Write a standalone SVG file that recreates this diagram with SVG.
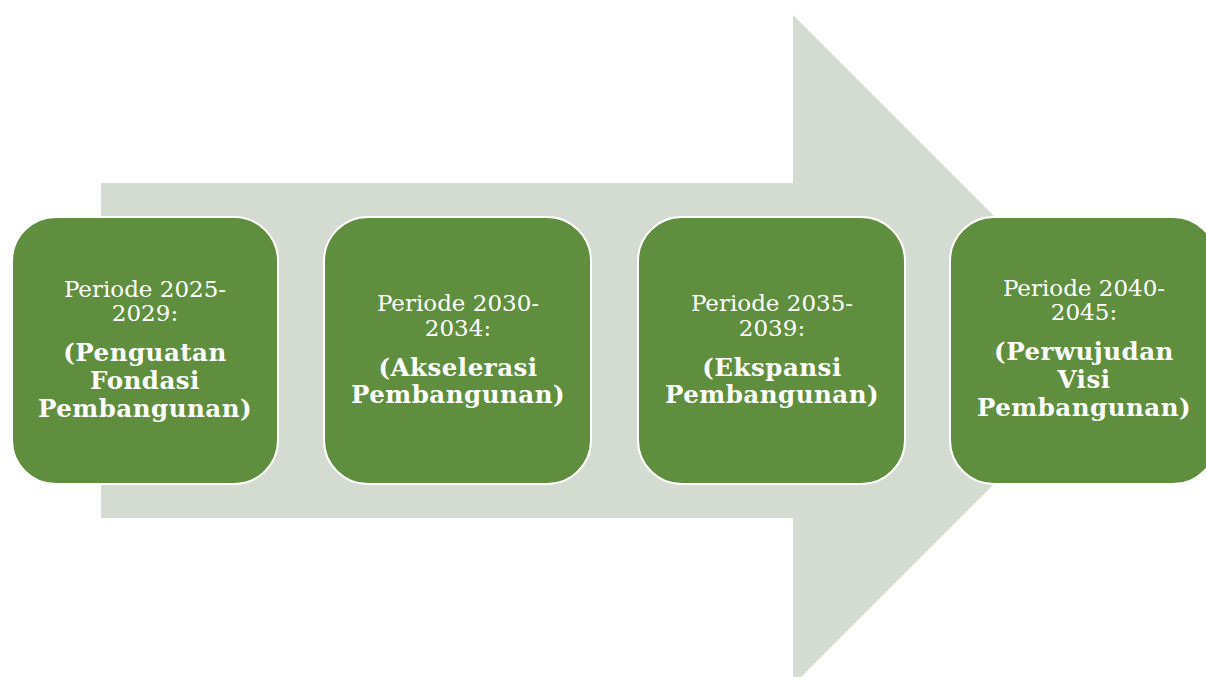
<svg xmlns="http://www.w3.org/2000/svg" width="1206" height="677" viewBox="0 0 1206 677">
<style>
.box{fill:#5f8f3e;stroke:#ffffff;stroke-width:2}
.r{font-family:"DejaVu Serif","Liberation Serif",serif;font-size:23px;fill:#ffffff;text-anchor:middle;font-weight:normal}
.b{font-family:"DejaVu Serif","Liberation Serif",serif;font-size:24.5px;letter-spacing:0.5px;fill:#ffffff;text-anchor:middle;font-weight:bold}
</style>
<rect width="1206" height="677" fill="#ffffff"/>
<g id="connectors">
<polygon id="arrow" points="101,183 793,183 793,15 1128,350 793,685 793,518 101,518" fill="#d4dcd1"/>
</g>
<g id="node1">
<rect class="box" x="12" y="217" width="266" height="267" rx="44"/>
<text class="r" x="145" y="297">Periode 2025-</text>
<text class="r" x="145" y="321">2029:</text>
<text class="b" x="145" y="361">(Penguatan</text>
<text class="b" x="145" y="389">Fondasi</text>
<text class="b" x="145" y="417">Pembangunan)</text>
</g>
<g id="node2">
<rect class="box" x="324" y="217" width="267" height="267" rx="44"/>
<text class="r" x="458" y="311">Periode 2030-</text>
<text class="r" x="458" y="336">2034:</text>
<text class="b" x="458" y="376">(Akselerasi</text>
<text class="b" x="458" y="403">Pembangunan)</text>
</g>
<g id="node3">
<rect class="box" x="638" y="217" width="267" height="267" rx="44"/>
<text class="r" x="772" y="311">Periode 2035-</text>
<text class="r" x="772" y="336">2039:</text>
<text class="b" x="772" y="376">(Ekspansi</text>
<text class="b" x="772" y="403">Pembangunan)</text>
</g>
<g id="node4">
<rect class="box" x="950" y="217" width="267" height="267" rx="44"/>
<text class="r" x="1084" y="296">Periode 2040-</text>
<text class="r" x="1084" y="320">2045:</text>
<text class="b" x="1084" y="360">(Perwujudan</text>
<text class="b" x="1084" y="388">Visi</text>
<text class="b" x="1084" y="416">Pembangunan)</text>
</g>
</svg>
